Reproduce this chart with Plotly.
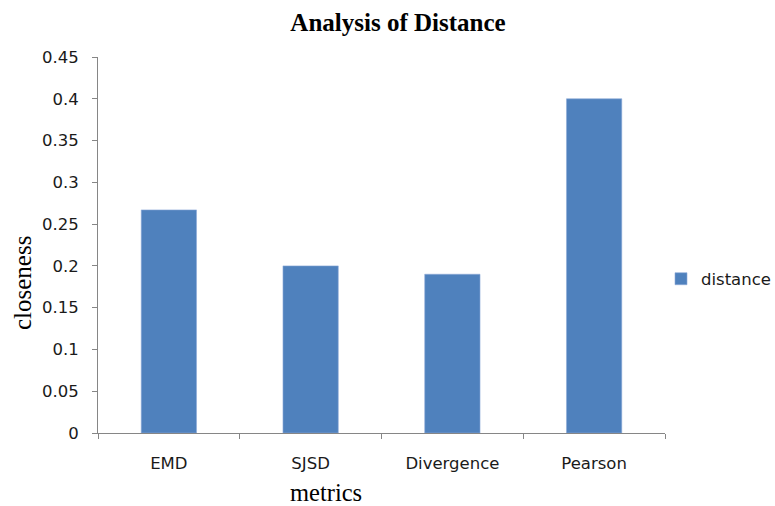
import plotly.graph_objects as go

# Distance metrics and their closeness scores
metrics = ["EMD", "SJSD", "Divergence", "Pearson"]
closeness = [0.267, 0.2, 0.19, 0.4]
series_name = "distance"
y_ticks = [0, 0.05, 0.1, 0.15, 0.2, 0.25, 0.3, 0.35, 0.4, 0.45]
y_tick_text = ["0", "0.05", "0.1", "0.15", "0.2", "0.25", "0.3", "0.35", "0.4", "0.45"]

W, H = 775, 506
PLOT_L, PLOT_R, PLOT_T, PLOT_B = 98, 665, 57, 433
bar_color = "#4F81BD"
axis_color = "#868686"
tick_font = dict(family="DejaVu Sans", size=16.5, color="#1a1a1a")
serif = "Liberation Serif, Times New Roman, serif"

fig = go.Figure(
    go.Bar(
        x=metrics,
        y=closeness,
        name=series_name,
        marker=dict(color=bar_color, line=dict(color="#8DAAD6", width=0.6)),
        showlegend=True,
    )
)

plot_w = PLOT_R - PLOT_L
plot_h = PLOT_B - PLOT_T

fig.update_layout(
    width=W,
    height=H,
    paper_bgcolor="white",
    plot_bgcolor="white",
    margin=dict(l=PLOT_L, r=W - PLOT_R, t=PLOT_T, b=H - PLOT_B, autoexpand=False),
    bargap=0.61,
    title=dict(
        text="<b>Analysis of Distance</b>",
        font=dict(family=serif, size=25, color="black"),
        x=398 / W,
        xanchor="center",
        xref="container",
        y=1 - 22 / H,
        yanchor="middle",
        yref="container",
    ),
    legend=dict(
        xref="container",
        yref="container",
        x=661 / W,
        xanchor="left",
        y=1 - 279 / H,
        yanchor="middle",
        font=tick_font,
        itemwidth=30,
        bgcolor="rgba(0,0,0,0)",
    ),
    annotations=[
        # axis titles sit off-centre relative to the plot area
        dict(
            text="closeness",
            xref="paper", yref="paper",
            x=(22 - PLOT_L) / plot_w,
            y=(PLOT_B - 283) / plot_h,
            xanchor="center", yanchor="middle",
            textangle=-90,
            showarrow=False,
            font=dict(family=serif, size=25, color="black"),
        ),
        dict(
            text="metrics",
            xref="paper", yref="paper",
            x=(325.5 - PLOT_L) / plot_w,
            y=-(492 - PLOT_B) / plot_h,
            xanchor="center", yanchor="middle",
            showarrow=False,
            font=dict(family=serif, size=24.5, color="black"),
        ),
    ],
)

fig.update_xaxes(
    showline=True,
    linecolor=axis_color,
    linewidth=1,
    ticks="outside",
    tickson="boundaries",
    ticklen=5,
    tickcolor=axis_color,
    tickfont=tick_font,
    ticklabelstandoff=15,
    showgrid=False,
)

fig.update_yaxes(
    range=[0, 0.45],
    tickvals=y_ticks,
    ticktext=y_tick_text,
    showline=True,
    linecolor=axis_color,
    linewidth=1,
    ticks="outside",
    ticklen=5,
    tickcolor=axis_color,
    tickfont=tick_font,
    ticklabelstandoff=10,
    showgrid=False,
    zeroline=False,
)

fig.write_html("out.html")
